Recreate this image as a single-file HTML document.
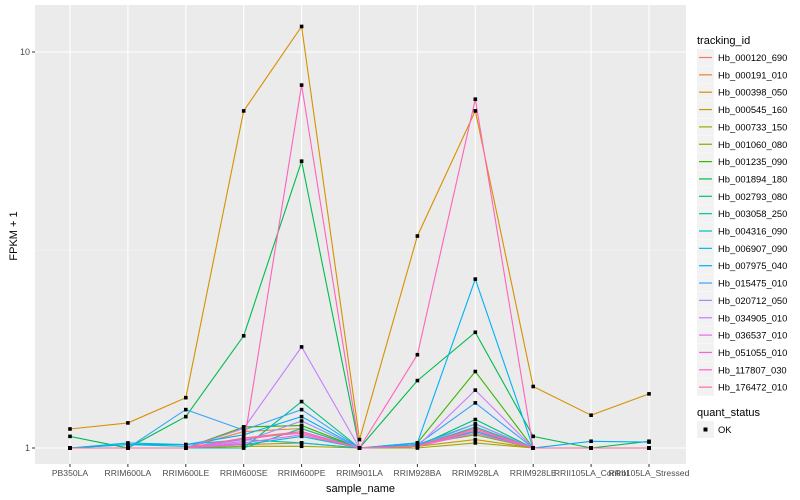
<!DOCTYPE html>
<html><head><meta charset="utf-8"><style>
body{margin:0;background:#fff;}
svg{display:block;font-family:"Liberation Sans",sans-serif;}
</style></head><body>
<svg id="chart" width="800" height="500"></svg>
<script>
const categories=["PB350LA","RRIM600LA","RRIM600LE","RRIM600SE","RRIM600PE","RRIM901LA","RRIM928BA","RRIM928LA","RRIM928LE","RRII105LA_Control","RRII105LA_Stressed"];
const seriesNames=["Hb_000120_690","Hb_000191_010","Hb_000398_050","Hb_000545_160","Hb_000733_150","Hb_001060_080","Hb_001235_090","Hb_001894_180","Hb_002793_080","Hb_003058_250","Hb_004316_090","Hb_006907_090","Hb_007975_040","Hb_015475_010","Hb_020712_050","Hb_034905_010","Hb_036537_010","Hb_051055_010","Hb_117807_030","Hb_176472_010"];
const seriesColors=["#F8766D","#EA8331","#D89000","#C09B00","#A3A500","#7CAE00","#39B600","#00BB4E","#00BF7D","#00C1A3","#00BFC4","#00BAE0","#00B0F6","#35A2FF","#9590FF","#C77CFF","#E76BF3","#FA62DB","#FF62BC","#FF6C91"];
const s0=[1,1,1,1.06,1.10,1,1.01,1.12,1,1,1];
const s1=[1,1,1,1.10,1.12,1,1.01,1.10,1,1,1];
const s2=[1.117,1.157,1.34,7.1,11.6,1.05,3.43,7.1,1.43,1.21,1.37];
const s3=[1,1,1,1.02,1.03,1,1.01,1.05,1,1,1];
const s4=[1,1,1,1.01,1.01,1,1,1.03,1,1,1];
const s5=[1,1,1,1.13,1.14,1,1.02,1.08,1,1,1];
const s6=[1,1,1,1.13,1.14,1,1.03,1.56,1,1,1];
const s7=[1.07,1,1.2,1.92,5.3,1,1.48,1.96,1.07,1,1.04];
const s8=[1,1,1,1,1.31,1,1.01,1.18,1,1,1];
const s9=[1,1,1,1,1.12,1,1.01,1.13,1,1,1];
const s10=[1,1.02,1.01,1.02,1.07,1,1.02,1.15,1,1,1];
const s11=[1,1.03,1.02,1.05,1.03,1,1.02,1.10,1,1,1];
const s12=[1,1.02,1.02,1.08,1.20,1,1.03,2.67,1,1.04,1.035];
const s13=[1,1,1.25,1.11,1.25,1,1.02,1.30,1,1,1];
const s14=[1,1,1,1.04,1.17,1,1.01,1.15,1,1,1];
const s15=[1,1,1,1.12,1.8,1,1.01,1.40,1,1,1];
const s16=[1,1,1,1.03,1.08,1,1.01,1.09,1,1,1];
const s17=[1,1,1,1.05,1.10,1,1.01,1.11,1,1,1];
const s18=[1,1,1,1.02,8.25,1,1.72,7.6,1,1,1];
const s19=[1,1,1,1.06,1.09,1,1.01,1.12,1,1,1];
const seriesValues=[s0,s1,s2,s3,s4,s5,s6,s7,s8,s9,s10,s11,s12,s13,s14,s15,s16,s17,s18,s19];
const yTicks=[1,10];

const NS="http://www.w3.org/2000/svg";
const svg=document.getElementById('chart');
function mk(tag,attrs,parent){const e=document.createElementNS(NS,tag);for(const k in attrs)e.setAttribute(k,attrs[k]);(parent||svg).appendChild(e);return e;}
const PL=35,PR=686,PT=5,PB=464;
function xPos(i){return 70+i*(649-70)/(categories.length-1);}
function yPos(v){return 448-396*Math.log10(v);}

const panel=mk('rect',{x:PL,y:PT,width:PR-PL,height:PB-PT,fill:'#EBEBEB'});


[Math.sqrt(10)].forEach(v=>{const l=mk('line',{x1:PL,x2:PR,y1:yPos(v),y2:yPos(v),stroke:'#F5F5F5','stroke-width':0.6});

});
yTicks.forEach(v=>{const y=yPos(v);
const l=mk('line',{x1:PL,x2:PR,y1:y,y2:y,stroke:'#fff','stroke-width':1.1});


mk('line',{x1:PL-3,x2:PL,y1:y,y2:y,stroke:'#333','stroke-width':1});
const t=mk('text',{x:PL-5,y:y+3,'text-anchor':'end','font-size':9,fill:'#4D4D4D'});t.textContent=String(v);

});
categories.forEach((c,i)=>{const x=xPos(i);
const l=mk('line',{x1:x,x2:x,y1:PT,y2:PB,stroke:'#fff','stroke-width':1.1});


mk('line',{x1:x,x2:x,y1:PB,y2:PB+3,stroke:'#333','stroke-width':1});
const t=mk('text',{x:x,y:PB+12,'text-anchor':'middle','font-size':8.6,fill:'#4D4D4D'});t.textContent=c;

});

seriesValues.forEach((vals,si)=>{
const d=vals.map((v,i)=>(i?'L':'M')+xPos(i).toFixed(1)+','+yPos(v).toFixed(1)).join(' ');
const p=mk('path',{d:d,fill:'none',stroke:seriesColors[si],'stroke-width':1.1});


});
seriesValues.forEach((vals,si)=>{vals.forEach((v,i)=>{
const r=mk('rect',{x:xPos(i)-1.8,y:yPos(v)-1.8,width:3.6,height:3.6,fill:'#000'});


});});

const xt=mk('text',{x:(PL+PR)/2,y:492,'text-anchor':'middle','font-size':11,fill:'#000'});xt.textContent='sample_name';


const yt=mk('text',{x:0,y:0,'text-anchor':'middle','font-size':11,fill:'#000',transform:'translate(17,236) rotate(-90)'});yt.textContent='FPKM + 1';



const lt=mk('text',{x:697,y:44,'font-size':11,fill:'#000'});lt.textContent='tracking_id';


seriesNames.forEach((n,i)=>{const y=49+i*17.35;
const g=mk('g',{});


mk('rect',{x:697,y:y,width:17,height:17,fill:'#F2F2F2'},g);
mk('line',{x1:699,x2:712,y1:y+8.5,y2:y+8.5,stroke:seriesColors[i],'stroke-width':1.2},g);
const t=mk('text',{x:718,y:y+12,'font-size':9.4,fill:'#000'},g);t.textContent=n;});
const qt=mk('text',{x:697,y:416,'font-size':11,fill:'#000'});qt.textContent='quant_status';


const g2=mk('g',{});


mk('rect',{x:697,y:421,width:17,height:17,fill:'#F2F2F2'},g2);
mk('rect',{x:703.5,y:427.5,width:4,height:4,fill:'#000'},g2);
const ok=mk('text',{x:718,y:433,'font-size':9.4,fill:'#000'},g2);ok.textContent='OK';
</script>
</body></html>
